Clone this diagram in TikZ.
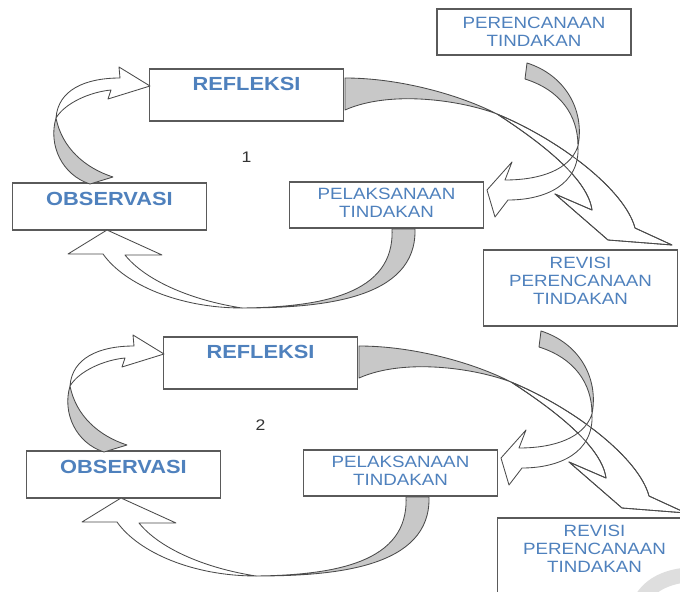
\documentclass[tikz,border=0pt]{standalone}
\usepackage{fontspec}
\setmainfont{Liberation Sans}
\newfontfamily\boxfont[FakeStretch=1.15]{Liberation Sans}
\usetikzlibrary{positioning}
\definecolor{txtblue}{HTML}{4F81BD}
\definecolor{boxline}{HTML}{5A5A5A}
\definecolor{arrline}{HTML}{4A4A4A}
\definecolor{backgray}{HTML}{C8C8C8}
\definecolor{markgray}{HTML}{DEDEDE}

\begin{document}
\begin{tikzpicture}[
  x=0.025cm, y=-0.025cm,
  box/.style={draw=boxline,line width=0.9pt,minimum width=4.85cm,inner sep=0pt,outer sep=0pt},
  bigtxt/.style={font=\boxfont\bfseries\fontsize{13.5}{14}\selectfont,text=txtblue},
  smalltxt/.style={font=\boxfont\fontsize{11.6}{12.6}\selectfont,text=txtblue,align=center},
  numtxt/.style={font=\boxfont\fontsize{10.9}{12}\selectfont,text=black!80,inner sep=0pt},
  ribbon/.style={draw=arrline,line width=0.6pt,fill=white,line join=round},
  backside/.style={ribbon,fill=backgray}
]
\path[use as bounding box,fill=white] (0,0) rectangle (680,592);
% faint mark in the corner
\fill[markgray] (636,594) .. controls (645,580) and (660,571) .. (682,568) -- (682,583) .. controls (670,585) and (660,590) .. (656,594) -- cycle;

\node[box,minimum height=1.15cm,label={[smalltxt]center:PERENCANAAN\\TINDAKAN}] (plan) at (534,32) {};

\foreach \c/\dx/\dy in {1/0/0,2/14/268}{
\begin{scope}[shift={(\dx,\dy)}]
\node[box,minimum height=1.3cm,label={[bigtxt,yshift=7.8pt]center:REFLEKSI}] (ref\c) at (246.5,95) {};
\node[box,minimum height=1.175cm,label={[bigtxt,yshift=5.3pt]center:OBSERVASI}] (obs\c) at (109.5,206.5) {};
\node[box,minimum height=1.15cm,label={[smalltxt,yshift=1.8pt]center:PELAKSANAAN\\TINDAKAN}] (pel\c) at (386.5,205) {};
\node[box,minimum height=1.9cm,label={[smalltxt,yshift=5pt]center:REVISI\\PERENCANAAN\\TINDAKAN}] (rev\c) at (580.5,288) {};
\node[numtxt,below=0.76cm of ref\c] (num\c) {\c};

% refleksi -> revisi
\path[backside] (345,78) .. controls (400,78) and (460,95) .. (497,114) .. controls (460,100) and (390,90) .. (345,110) -- cycle;
\path[ribbon] (497,114) .. controls (560,140) and (625,190) .. (635,228) -- (672,245) -- (608,240) -- (555,194) -- (592,210) .. controls (588,180) and (545,145) .. (497,114) -- cycle;
% planning -> pelaksanaan
\path[backside] (527,63) .. controls (565,75) and (585,110) .. (578,146) .. controls (578,115) and (560,90) .. (525,79) -- cycle;
\path[ribbon] (578,146) .. controls (580,185) and (545,200) .. (508,200) -- (495,217) -- (487,190) -- (512,162) -- (505,180) .. controls (540,180) and (570,170) .. (578,146) -- cycle;
\draw[arrline,line width=0.6pt,line join=round] (497,114) .. controls (560,140) and (625,190) .. (635,228) -- (672,245) -- (608,240) -- (555,194) -- (592,210) .. controls (588,180) and (545,145) .. (497,114);
% pelaksanaan -> observasi
\path[backside] (392,229) -- (415,229) .. controls (417,300) and (320,308) .. (242,308) .. controls (320,307) and (395,295) .. (392,229) -- cycle;
\path[ribbon] (242,308) .. controls (180,308) and (125,285) .. (103,254) -- (68,254) -- (107,230) -- (162,255) -- (125,255) .. controls (145,280) and (190,300) .. (242,308) -- cycle;
% observasi -> refleksi
\path[backside] (56,118) .. controls (48,145) and (62,175) .. (90,184) -- (113,177) .. controls (85,168) and (62,148) .. (56,118) -- cycle;
\path[ribbon] (56,118) .. controls (58,90) and (85,78) .. (120,78) -- (119,67) -- (150,86) -- (108,99) -- (111,90) .. controls (90,92) and (65,103) .. (56,118) -- cycle;
\end{scope}
}
\end{tikzpicture}
\end{document}
